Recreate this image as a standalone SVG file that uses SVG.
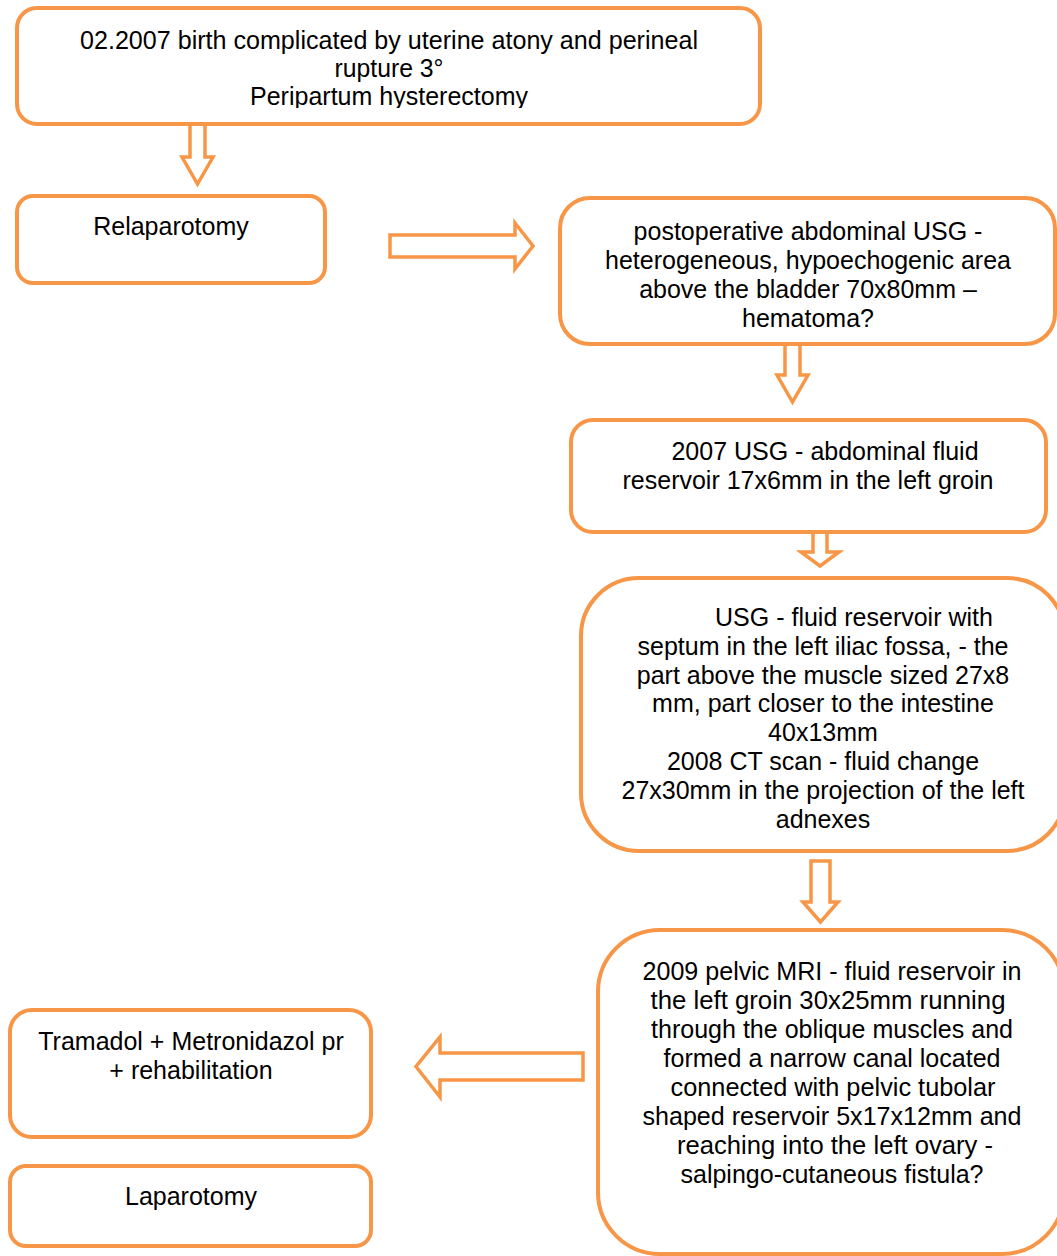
<svg xmlns="http://www.w3.org/2000/svg" width="1057" height="1256" viewBox="0 0 1057 1256">
<style>
.box{fill:#fff;stroke:#F79646;stroke-width:4}
.arr{fill:#fff;stroke:#F79646;stroke-width:3.5;stroke-linejoin:miter}
text{font-family:"Liberation Sans",Arial,sans-serif;font-size:25px;fill:#000;text-anchor:middle}
</style>
<defs>
<clipPath id="clipTop"><rect x="17" y="8" width="745" height="100"/></clipPath>
</defs>
<rect width="1057" height="1256" fill="#fff"/>
<g id="connectors">
<path class="arr" d="M190 124 L205 124 L205 157 L213 157 L197.5 184 L182 157 L190 157 Z"/>
<path class="arr" d="M390 235 L515 235 L515 223 L533 246 L515 269 L515 257 L390 257 Z"/>
<path class="arr" d="M785 342 L800 342 L800 375 L808 375 L792.5 402 L777 375 L785 375 Z"/>
<path class="arr" d="M813 532 L827 532 L827 552 L839 552 L820 566 L801 552 L813 552 Z"/>
<path class="arr" d="M811 861 L830 861 L830 902 L838 902 L820.5 922 L803 902 L811 902 Z"/>
<path class="arr" d="M583 1053 L583 1080 L440 1080 L440 1097 L416 1066.5 L440 1037 L440 1053 Z"/>
</g>
<g id="n1">
<rect class="box" x="17" y="8" width="743" height="116" rx="20"/>
<g clip-path="url(#clipTop)">
<text x="389" y="49" textLength="618" lengthAdjust="spacingAndGlyphs">02.2007 birth complicated by uterine atony and perineal</text>
<text x="389" y="77" textLength="109" lengthAdjust="spacingAndGlyphs">rupture 3°</text>
<text x="389" y="105" textLength="278" lengthAdjust="spacingAndGlyphs">Peripartum hysterectomy</text>
</g>
</g>
<g id="n2">
<rect class="box" x="17" y="196" width="308" height="87" rx="16"/>
<text x="171" y="235">Relaparotomy</text>
</g>
<g id="n3">
<rect class="box" x="560" y="198" width="495" height="146" rx="30"/>
<text x="808" y="240">postoperative abdominal USG -</text>
<text x="808" y="269">heterogeneous, hypoechogenic area</text>
<text x="808" y="298">above the bladder 70x80mm –</text>
<text x="808" y="327">hematoma?</text>
</g>
<g id="n4">
<rect class="box" x="571" y="420" width="475" height="112" rx="22"/>
<text x="825" y="460">2007 USG - abdominal fluid</text>
<text x="808" y="489">reservoir 17x6mm in the left groin</text>
</g>
<g id="n5">
<rect class="box" x="581" y="578" width="484" height="273" rx="58"/>
<text x="854" y="626">USG - fluid reservoir with</text>
<text x="823" y="655">septum in the left iliac fossa, - the</text>
<text x="823" y="684">part above the muscle sized 27x8</text>
<text x="823" y="712">mm, part closer to the intestine</text>
<text x="823" y="741">40x13mm</text>
<text x="823" y="770">2008 CT scan - fluid change</text>
<text x="823" y="799">27x30mm in the projection of the left</text>
<text x="823" y="828">adnexes</text>
</g>
<g id="n6">
<rect class="box" x="598" y="930" width="466" height="324" rx="62"/>
<text x="832" y="980" textLength="379" lengthAdjust="spacingAndGlyphs">2009 pelvic MRI - fluid reservoir in</text>
<text x="828" y="1009" textLength="355" lengthAdjust="spacingAndGlyphs">the left groin 30x25mm running</text>
<text x="832" y="1038" textLength="362" lengthAdjust="spacingAndGlyphs">through the oblique muscles and</text>
<text x="832" y="1067" textLength="337" lengthAdjust="spacingAndGlyphs">formed a narrow canal located</text>
<text x="833" y="1096" textLength="325" lengthAdjust="spacingAndGlyphs">connected with pelvic tubolar</text>
<text x="832" y="1125" textLength="379" lengthAdjust="spacingAndGlyphs">shaped reservoir 5x17x12mm and</text>
<text x="835" y="1154" textLength="316" lengthAdjust="spacingAndGlyphs">reaching into the left ovary -</text>
<text x="832" y="1183" textLength="303" lengthAdjust="spacingAndGlyphs">salpingo-cutaneous fistula?</text>
</g>
<g id="n7">
<rect class="box" x="10" y="1010" width="361" height="127" rx="22"/>
<text x="191" y="1050">Tramadol + Metronidazol pr</text>
<text x="191" y="1079">+ rehabilitation</text>
</g>
<g id="n8">
<rect class="box" x="10" y="1166" width="361" height="80" rx="16"/>
<text x="191" y="1205">Laparotomy</text>
</g>
</svg>
